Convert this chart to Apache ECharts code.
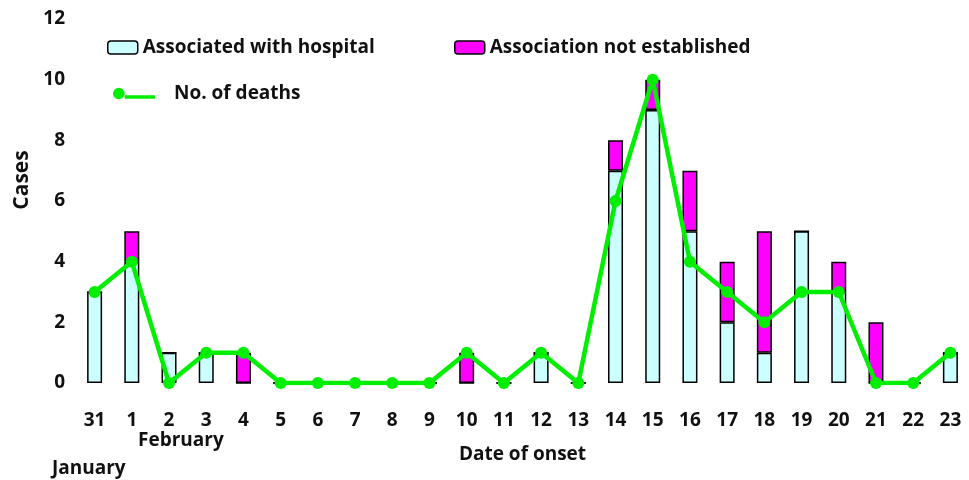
<!DOCTYPE html>
<html><head><meta charset="utf-8">
<script src="https://cdn.jsdelivr.net/npm/echarts@6/dist/echarts.min.js"></script>
<style>html,body{margin:0;padding:0;background:#fff}#c{width:969px;height:480px}</style>
</head><body><div id="c"></div>
<script>
const categories = ['31','1','2','3','4','5','6','7','8','9','10','11','12','13','14','15','16','17','18','19','20','21','22','23'];
const hospital =   [3,4,1,1,0,0,0,0,0,0,0,0,1,0,7,9,5,2,1,5,3,0,0,1];
const notEstab =   [0,1,0,0,1,0,0,0,0,0,1,0,0,0,1,1,2,2,4,0,1,2,0,0];
const deaths =     [3,4,0,1,1,0,0,0,0,0,1,0,1,0,6,10,4,3,2,3,3,0,0,1];
const yTicks = [0,2,4,6,8,10,12];

const FONT = 'Open Sans';
const chart = echarts.init(document.getElementById('c'));
const lt = {fontFamily: FONT, fontWeight: 'bold', fontSize: 19, color: '#111'};
chart.setOption({
  animation: false,
  textStyle: {fontFamily: FONT},
  grid: {left: 76, right: 0, top: 19, bottom: 97, containLabel: false},
  legend: [
    {data: ['Associated with hospital'], left: 102, top: 33, itemWidth: 30, itemHeight: 13, textStyle: lt, itemStyle: {borderColor: '#000', borderWidth: 1.5}},
    {data: ['Association not established'], left: 449, top: 33, itemWidth: 30, itemHeight: 13, textStyle: lt, itemStyle: {borderColor: '#000', borderWidth: 1.5}},
    {data: [{name: 'No. of deaths', icon: 'path://M0,5a5,5 0 1,0 10,0a5,5 0 1,0 -10,0zM10,6.5h26v3h-26z'}], left: 108, top: 79, itemWidth: 42, itemHeight: 12, textStyle: Object.assign({}, lt, {padding: [0,0,0,14]})}
  ],
  xAxis: {
    type: 'category', data: categories,
    axisLine: {show: false}, axisTick: {show: false},
    axisLabel: {fontFamily: FONT, fontWeight: 'bold', fontSize: 19, color: '#111', margin: 28},
    name: 'Date of onset', nameLocation: 'middle', nameGap: 62,
    nameTextStyle: {fontFamily: FONT, fontWeight: 'bold', fontSize: 19, color: '#111'}
  },
  yAxis: {
    type: 'value', min: 0, max: 12, interval: 2,
    axisLine: {show: false}, axisTick: {show: false}, splitLine: {show: false},
    axisLabel: {fontFamily: FONT, fontWeight: 'bold', fontSize: 19, color: '#111', margin: 11,
      formatter: v => yTicks.includes(v) ? String(v) : ''}
  },
  graphic: [
    {type: 'text', x: 22, y: 180, rotation: Math.PI / 2,
      style: {text: 'Cases', fontFamily: FONT, fontWeight: 'bold', fontSize: 21, fill: '#111', align: 'center', verticalAlign: 'middle'}},
    {type: 'text', left: 138, top: 431, style: {text: 'February', fontFamily: FONT, fontWeight: 'bold', fontSize: 19, fill: '#111'}},
    {type: 'text', left: 52, top: 459, style: {text: 'January', fontFamily: FONT, fontWeight: 'bold', fontSize: 19, fill: '#111'}}
  ],
  series: [
    {name: 'Associated with hospital', type: 'bar', stack: 'c', data: hospital, barWidth: 15,
      itemStyle: {color: '#ccffff', borderColor: '#000', borderWidth: 1.5}},
    {name: 'Association not established', type: 'bar', stack: 'c', data: notEstab, barWidth: 15,
      itemStyle: {color: '#ff00ff', borderColor: '#000', borderWidth: 1.5}},
    {name: 'No. of deaths', type: 'line', data: deaths, symbol: 'circle', symbolSize: 12, z: 5,
      lineStyle: {color: '#00ee00', width: 4.5}, itemStyle: {color: '#00ee00'}}
  ]
});
</script></body></html>
